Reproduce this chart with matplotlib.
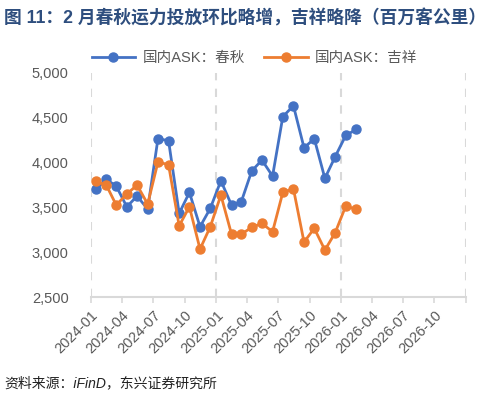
import matplotlib
matplotlib.use("Agg")
import matplotlib.pyplot as plt
from matplotlib.ticker import FuncFormatter
from datetime import datetime

plt.rcParams['font.family'] = ['Liberation Sans', 'Noto Sans CJK SC', 'DejaVu Sans']

months = [(2024, m) for m in range(1, 13)] + [(2025, m) for m in range(1, 13)] + [(2026, 1), (2026, 2)]
chunqiu = [3702, 3813, 3739, 3508, 3627, 3482, 4267, 4245, 3434, 3668, 3285, 3490,
           3798, 3527, 3557, 3906, 4029, 3850, 4512, 4635, 4166, 4267, 3825, 4066,
           4304, 4371]
juneyao = [3791, 3750, 3527, 3650, 3750, 3538, 4007, 3977, 3296, 3508, 3036, 3285,
           3638, 3203, 3200, 3278, 3323, 3229, 3668, 3709, 3114, 3267, 3025, 3218,
           3516, 3479]
series_names = ['国内ASK：春秋', '国内ASK：吉祥']
title = '图 11：2 月春秋运力投放环比略增，吉祥略降（百万客公里）'
source = '资料来源：iFinD，东兴证券研究所'

dates = [datetime(y, m, 15) for y, m in months]

fig = plt.figure(figsize=(4.94, 4.01), dpi=100)
ax = fig.add_axes([0.184, 0.259, 0.759, 0.559])

grey = '#D9D9D9'
for yr in [2024, 2025, 2026, 2027]:
    ax.axvline(datetime(yr, 1, 1), color=grey, lw=1.5, ls=(0, (4, 4)), zorder=0)

ax.plot(dates, chunqiu, color='#4472C4', lw=2, marker='o', ms=6.5, label=series_names[0], zorder=3)
ax.plot(dates, juneyao, color='#ED7D31', lw=2, marker='o', ms=6.5, label=series_names[1], zorder=3)

ax.set_xlim(datetime(2024, 1, 1), datetime(2027, 1, 1))
ax.set_ylim(2500, 5000)
ax.set_yticks(range(2500, 5001, 500))
ax.yaxis.set_major_formatter(FuncFormatter(lambda v, p: f'{int(v):,}'))

xt = [datetime(y, m, 1) for y in [2024, 2025, 2026] for m in [1, 4, 7, 10]]
ax.set_xticks(xt + [datetime(2027, 1, 1)])
ax.set_xticklabels([d.strftime('%Y-%m') for d in xt] + [''])
for lab in ax.get_xticklabels():
    lab.set_rotation(45)
    lab.set_ha('right')
    lab.set_rotation_mode('anchor')

for s in ['top', 'right', 'left']:
    ax.spines[s].set_visible(False)
ax.spines['bottom'].set_color(grey)
ax.spines['bottom'].set_linewidth(1.5)
ax.tick_params(axis='x', colors=grey, length=4, width=1.2, labelcolor='#595959', labelsize=10.5, pad=4)
ax.tick_params(axis='y', length=0, labelcolor='#595959', labelsize=10.5, pad=16)

fig.legend(loc='center', bbox_to_anchor=(0.515, 0.855), ncol=2, frameon=False,
           fontsize=10.5, handlelength=3.0, columnspacing=1.3, handletextpad=0.5,
           labelcolor='#595959')

fig.text(0.008, 0.955, title, fontsize=12.8, fontweight='bold', color='#2E4E7E',
         family=['Liberation Sans', 'Noto Sans CJK SC'], va='center')
fig.text(0.008, 0.045, source, fontsize=10, fontstyle='italic', color='#222222', va='center')

fig.savefig('out.png', dpi=100)
